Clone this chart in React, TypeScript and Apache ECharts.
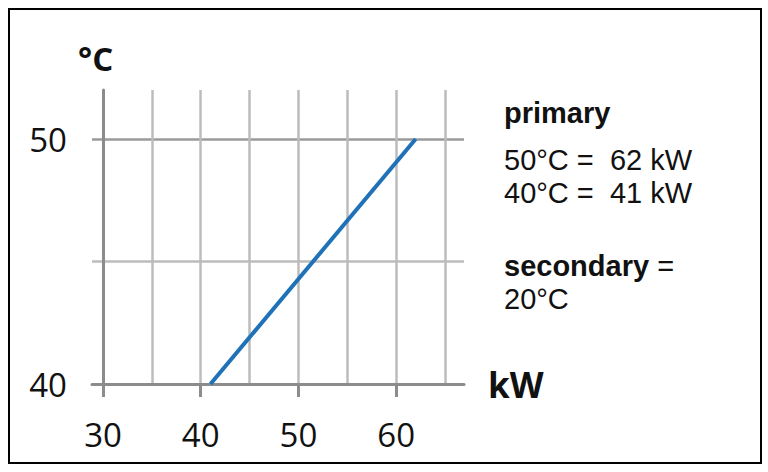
import React, { useEffect, useRef } from "react";
import * as echarts from "echarts";

// ---- data ----
const powerKW = [41, 62];
const tempC = [40, 50];
const xTickLabels = [30, 40, 50, 60];
const yTickLabels = [40, 50];
const xRange = [30, 65];
const yRange = [40, 52];
const xUnit = "kW";
const yUnit = "°C";
const noteLines = [
  "{b|primary}",
  "{r|50°C =  62 kW}",
  "{r|40°C =  41 kW}",
  "{b|secondary} {r|=}",
  "{r|20°C}",
];

const AXIS_DARK = "#8c8c8c";
const GRID_LIGHT = "#bcbcbc";
const CHART_FONT = "'Open Sans', 'Liberation Sans', sans-serif";
const NOTE_FONT = "'Liberation Sans', Arial, sans-serif";

export default function App() {
  const ref = useRef<HTMLDivElement>(null);

  useEffect(() => {
    if (!ref.current) return;
    const chart = echarts.init(ref.current, undefined, { renderer: "svg" });

    const noteY = [113, 160, 193, 266, 299];
    const rich = {
      b: { fontFamily: NOTE_FONT, fontSize: 29, fontWeight: "bold", color: "#111" },
      r: { fontFamily: NOTE_FONT, fontSize: 29, fontWeight: "normal", color: "#111" },
    };

    const option: any = {
      animation: false,
      backgroundColor: "#ffffff",
      grid: [
        { left: 103, right: 768 - 445, top: 90, bottom: 472 - 384, outerBoundsMode: "none" },
        { left: 92, right: 768 - 464, top: 90, bottom: 472 - 384, outerBoundsMode: "none" },
      ],
      xAxis: [
        {
          type: "value",
          gridIndex: 0,
          min: xRange[0],
          max: xRange[1],
          interval: 5,
          axisLine: { show: false },
          axisTick: {
            show: true,
            customValues: xTickLabels,
            length: 13,
            lineStyle: { color: AXIS_DARK, width: 3 },
          },
          axisLabel: {
            customValues: xTickLabels,
            fontFamily: CHART_FONT,
            fontSize: 33,
            color: "#111",
            margin: 50,
            verticalAlign: "middle",
          },
          splitLine: { show: false },
        },
        {
          type: "value",
          gridIndex: 1,
          min: 0,
          max: 1,
          axisLine: { show: true, lineStyle: { color: AXIS_DARK, width: 3 } },
          axisTick: { show: false },
          axisLabel: { show: false },
          splitLine: { show: false },
          name: xUnit,
          nameLocation: "end",
          nameGap: 24,
          nameTextStyle: {
            fontFamily: CHART_FONT,
            fontSize: 35,
            fontWeight: "bold",
            color: "#111",
            verticalAlign: "middle",
          },
        },
        {
          type: "value",
          gridIndex: 0,
          min: xRange[0],
          max: xRange[1],
          interval: 5,
          axisLine: { show: false },
          axisTick: { show: false },
          axisLabel: { show: false },
          splitLine: { show: true, lineStyle: { color: GRID_LIGHT, width: 2.5 } },
        },
      ],
      yAxis: [
        {
          type: "value",
          gridIndex: 0,
          min: yRange[0],
          max: yRange[1],
          interval: 5,
          axisLine: { show: true, lineStyle: { color: AXIS_DARK, width: 3 } },
          axisTick: { show: false },
          axisLabel: {
            customValues: yTickLabels,
            fontFamily: CHART_FONT,
            fontSize: 33,
            color: "#111",
            margin: 36,
          },
          splitLine: { show: false },
          z: 5,
        },
        {
          type: "value",
          gridIndex: 1,
          min: yRange[0],
          max: yRange[1],
          interval: 5,
          axisLine: { show: false },
          axisTick: { show: false },
          axisLabel: { show: false },
          splitLine: {
            show: true,
            showMaxLine: false,
            lineStyle: { color: [AXIS_DARK, GRID_LIGHT, "#9a9a9a", GRID_LIGHT], width: 2.5 },
          },
        },
      ],
      series: [
        {
          type: "line",
          xAxisIndex: 0,
          yAxisIndex: 0,
          data: powerKW.map((p, i) => [p, tempC[i]]),
          symbol: "none",
          lineStyle: { color: "#1f72b8", width: 4 },
          z: 10,
        },
      ],
      graphic: [
        {
          type: "rect",
          shape: { x: 9, y: 9, width: 752, height: 454 },
          style: { fill: "none", stroke: "#000", lineWidth: 2 },
          silent: true,
        },
        {
          type: "text",
          x: 78,
          y: 58,
          style: {
            text: yUnit,
            font: `bold 33px ${CHART_FONT}`,
            fill: "#111",
            verticalAlign: "middle",
            align: "left",
          },
        },
        ...noteLines.map((t, i) => ({
          type: "text",
          x: 504,
          y: noteY[i],
          style: {
            text: t,
            rich,
            font: `29px ${NOTE_FONT}`,
            fill: "#111",
            verticalAlign: "middle",
            align: "left",
          },
        })),
      ],
    };

    chart.setOption(option);
    return () => chart.dispose();
  }, []);

  return (
    <div
      ref={ref}
      style={{ position: "fixed", left: 0, top: 0, width: 768, height: 472 }}
    />
  );
}
